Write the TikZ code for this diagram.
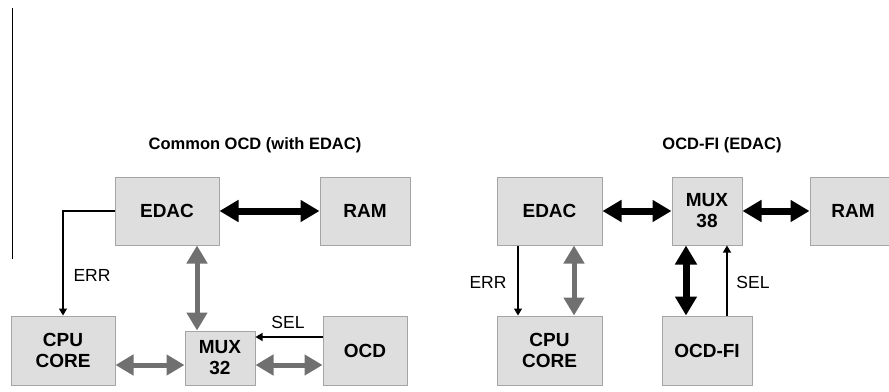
\documentclass[tikz,border=0pt]{standalone}
\usepackage{fontspec}
\setmainfont{Liberation Sans}
\usetikzlibrary{arrows.meta,positioning,calc}
\definecolor{boxfill}{RGB}{222,222,222}
\definecolor{boxline}{RGB}{165,165,165}
\definecolor{busgray}{RGB}{112,112,112}
\tikzset{
  block/.style={draw=boxline, fill=boxfill, line width=1pt, align=center,
                font=\fontsize{19}{21}\selectfont\bfseries, inner sep=0pt},
  title/.style={font=\fontsize{16.5}{19}\selectfont\bfseries},
  siglabel/.style={font=\fontsize{17.5}{19}\selectfont},
  graybus/.style={{Triangle[width=20pt,length=18pt]}-{Triangle[width=20pt,length=18pt]},
                  line width=5pt, draw=busgray},
  blackbus/.style={{Triangle[width=21pt,length=19pt]}-{Triangle[width=21pt,length=19pt]},
                   line width=7pt, draw=black},
  arrow/.style={-{Triangle[width=8pt,length=7pt]}, line width=1.2pt},
}

\begin{document}
\begin{tikzpicture}[x=1pt, y=-1pt]
\useasboundingbox (0,0) rectangle (889,391);
\clip (0,0) rectangle (889,391);

% margin rule on the left
\coordinate (ruletop) at (12,8);
\coordinate (rulebot) at (12,259);
\draw[line width=1pt] (ruletop) -- (rulebot);

% ---------------- left: common OCD with EDAC ----------------
\node[title] (ltitle) at (255,145) {Common OCD (with EDAC)};

\node[block, minimum width=104, minimum height=68] (ledac) at (167,211) {EDAC};
\node[block, minimum width=90, minimum height=68] (lram) at (365,211) {RAM};
\node[block, minimum width=104, minimum height=69] (lcpu) at (63,350.5) {CPU\\CORE};
\node[block, minimum width=70, minimum height=54] (mux32) at (220,358) {MUX\\32};
\node[block, minimum width=84, minimum height=69] (ocd) at (365,350.5) {OCD};

\draw[blackbus] (ledac) -- (lram);
\draw[graybus] ([xshift=30]ledac.south) -- ([xshift=30]ledac.south |- mux32.north);
\draw[graybus] ([yshift=-7]mux32.west -| lcpu.east) -- ([yshift=-7]mux32.west);
\draw[graybus] ([yshift=-7]mux32.east) -- ([yshift=-7]mux32.east -| ocd.west);

% error flag and select line
\draw[arrow] (ledac.west) -| (lcpu.north);
\node[siglabel] (lerr) at (92,275) {ERR};
\draw[arrow] ([yshift=13.5]ocd.west) -- ([yshift=13.5]ocd.west -| mux32.east);
\node[siglabel] (lsel) at (288,322) {SEL};

% ---------------- right: OCD-FI with EDAC ----------------
\node[title] (rtitle) at (722,145) {OCD-FI (EDAC)};

\node[block, minimum width=105, minimum height=68] (redac) at (549.5,211) {EDAC};
\node[block, minimum width=70, minimum height=68] (mux38) at (707,211) {MUX\\38};
\node[block, minimum width=86, minimum height=68] (rram) at (853,211) {RAM};
\node[block, minimum width=105, minimum height=69] (rcpu) at (549.5,350.5) {CPU\\CORE};
\node[block, minimum width=90, minimum height=69] (ocdfi) at (707,350.5) {OCD-FI};

\draw[blackbus] (redac) -- (mux38);
\draw[blackbus] (mux38) -- (rram);
\draw[blackbus] ([xshift=-21]mux38.south) -- ([xshift=-21]mux38.south |- ocdfi.north);
\draw[graybus] ([xshift=24.5]redac.south) -- ([xshift=24.5]redac.south |- rcpu.north);

\draw[arrow] ([xshift=-31.5]redac.south) -- ([xshift=-31.5]redac.south |- rcpu.north);
\node[siglabel] (rerr) at (488,282) {ERR};
\draw[arrow] ([xshift=20]ocdfi.north) -- ([xshift=20]ocdfi.north |- mux38.south);
\node[siglabel] (rsel) at (753,282) {SEL};
\end{tikzpicture}
\end{document}
